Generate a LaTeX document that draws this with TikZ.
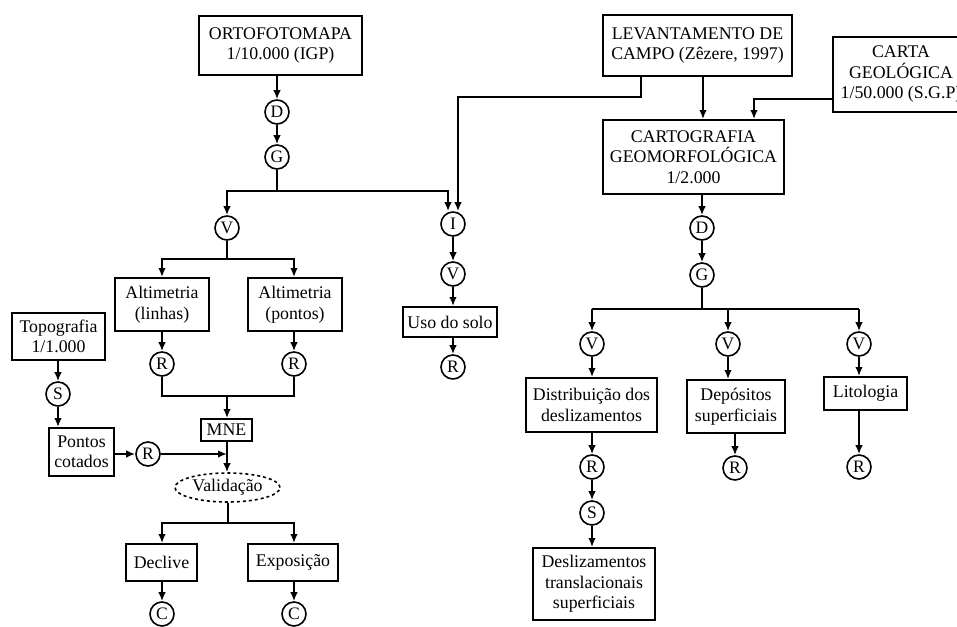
\documentclass[tikz,border=0pt]{standalone}
\usepackage{fontspec}
\setmainfont{Liberation Serif}
\usetikzlibrary{arrows.meta,shapes.geometric}
\begin{document}
\begin{tikzpicture}[x=1pt,y=-1pt,
  every node/.style={font=\fontsize{17.8}{20.5}\selectfont},
  box/.style={draw,line width=1.8pt,align=center,inner sep=1pt},
  circ/.style={draw,circle,line width=1.6pt,minimum size=24pt,inner sep=0pt,font=\fontsize{17.5}{18}\selectfont},
  ln/.style={line width=1.8pt},
  arr/.style={line width=1.8pt,-{Latex[length=9pt,width=7.5pt]}}]
\useasboundingbox (0,0) rectangle (957,626);
% left column
\node[box,minimum width=163pt,minimum height=59pt] (ortho) at (280.5,45.5) {ORTOFOTOMAPA\\1/10.000 (IGP)};
\node[circ] (D1) at (277,112) {D};
\node[circ] (G1) at (277,157) {G};
\coordinate (b1) at (277,191);
\node[circ] (V1) at (227,228) {V};
\node[circ] (I) at (453,224) {I};
\coordinate (b1l) at (227,191);
\coordinate (b1r) at (448,191);
\draw[arr] (ortho.south -| D1) -- (D1);
\draw[arr] (D1) -- (G1);
\draw[ln] (G1) -- (b1);
\draw[arr] (b1) -- (b1l) -- (V1);
\draw[arr] (b1) -- (b1r) -- (b1r |- I.north);

\coordinate (b2) at (227,259);
\coordinate (b2l) at (162,259);
\coordinate (b2r) at (294,259);
\node[box,minimum width=94pt,minimum height=53pt] (altl) at (162,304.5) {Altimetria\\(linhas)};
\node[box,minimum width=94pt,minimum height=53pt] (altp) at (295,304.5) {Altimetria\\(pontos)};
\draw[ln] (V1) -- (b2);
\draw[arr] (b2) -- (b2l) -- (b2l |- altl.north);
\draw[arr] (b2) -- (b2r) -- (b2r |- altp.north);
\node[circ] (RL) at (162,364) {R};
\node[circ] (RP) at (294,364) {R};
\draw[arr] (altl.south -| RL) -- (RL);
\draw[arr] (altp.south -| RP) -- (RP);
\coordinate (m1) at (162,396);
\coordinate (m2) at (294,396);
\coordinate (m0) at (227,396);
\node[box,minimum width=51pt,minimum height=22pt,inner sep=0pt] (mne) at (226.5,430) {MNE};
\draw[ln] (RL) -- (m1) -- (m2) -- (RP);
\draw[arr] (m0) -- (m0 |- mne.north);

\node[box,minimum width=93pt,minimum height=47pt] (topo) at (58.5,336.5) {Topografia\\1/1.000};
\node[circ] (S1) at (58,394) {S};
\node[box,minimum width=65pt,minimum height=48pt] (pont) at (81.5,452) {Pontos\\cotados};
\node[circ] (R3) at (148,454) {R};
\coordinate (j3) at (227,454);
\draw[arr] (topo.south -| S1) -- (S1);
\draw[arr] (S1) -- (S1 |- pont.north);
\draw[arr] (pont.east |- R3) -- (R3);
\draw[arr] (R3) -- (j3);

\node[ellipse,draw,dashed,line width=1.6pt,minimum width=105pt,minimum height=29pt,inner sep=0pt] (valid) at (227.5,487.5) {Validação};
\draw[arr] (mne.south -| j3) -- (j3 |- valid.north);
\coordinate (b3) at (228,523);
\coordinate (b3l) at (162,523);
\coordinate (b3r) at (294,523);
\node[box,minimum width=71pt,minimum height=37pt] (decl) at (161.5,562.5) {Declive};
\node[box,minimum width=90pt,minimum height=37pt] (expo) at (293,562.5) {Exposição};
\draw[ln] (valid.south -| b3) -- (b3);
\draw[arr] (b3) -- (b3l) -- (b3l |- decl.north);
\draw[arr] (b3) -- (b3r) -- (b3r |- expo.north);
\node[circ] (C1) at (162,614) {C};
\node[circ] (C2) at (294,614) {C};
\draw[arr] (decl.south -| C1) -- (C1);
\draw[arr] (expo.south -| C2) -- (C2);

% middle column
\node[circ] (V2) at (453,274) {V};
\node[box,minimum width=94pt,minimum height=30pt] (uso) at (450,322) {Uso do solo};
\node[circ] (R4) at (453,367) {R};
\draw[arr] (I) -- (V2);
\draw[arr] (V2) -- (V2 |- uso.north);
\draw[arr] (uso.south -| R4) -- (R4);

% right part
\node[box,minimum width=189pt,minimum height=61pt] (lev) at (697.5,45.5) {LEVANTAMENTO DE\\CAMPO (Zêzere, 1997)};
\node[box,minimum width=181pt,minimum height=74pt] (carto) at (693.5,157) {CARTOGRAFIA\\GEOMORFOLÓGICA\\1/2.000};
\node[box,minimum width=136pt,minimum height=75pt] (carta) at (901,74.5) {CARTA\\GEOLÓGICA\\1/50.000 (S.G.P)};
\coordinate (l1) at (641,97);
\coordinate (l2) at (458,97);
\draw[arr] (lev.south -| l1) -- (l1) -- (l2) -- (l2 |- I.north);
\coordinate (l3) at (703,76);
\draw[arr] (lev.south -| l3) -- (l3 |- carto.north);
\coordinate (c1) at (754,99);
\draw[arr] (carta.west |- c1) -- (c1) -- (c1 |- carto.north);

\node[circ] (D2) at (702,228) {D};
\node[circ] (G2) at (702,275) {G};
\coordinate (b4) at (702,309);
\coordinate (b4l) at (592,309);
\coordinate (b4m) at (728,309);
\coordinate (b4r) at (859,309);
\draw[arr] (carto.south -| D2) -- (D2);
\draw[arr] (D2) -- (G2);
\draw[ln] (G2) -- (b4);
\draw[ln] (b4l) -- (b4r);
\node[circ] (V3) at (592,344) {V};
\node[circ] (V4) at (728,344) {V};
\node[circ] (V5) at (859,344) {V};
\draw[arr] (b4l) -- (V3);
\draw[arr] (b4m) -- (V4);
\draw[arr] (b4r) -- (V5);
\node[box,minimum width=131pt,minimum height=54pt] (dist) at (591.5,405) {Distribuição dos\\deslizamentos};
\node[box,minimum width=98pt,minimum height=53pt] (depo) at (736,406.5) {Depósitos\\superficiais};
\node[box,minimum width=83pt,minimum height=33pt] (lito) at (865.5,393.5) {Litologia};
\draw[arr] (V3) -- (V3 |- dist.north);
\draw[arr] (V4) -- (V4 |- depo.north);
\draw[arr] (V5) -- (V5 |- lito.north);
\node[circ] (R5) at (592,467) {R};
\node[circ] (S2) at (592,513) {S};
\node[box,minimum width=122pt,minimum height=72pt] (desl) at (594,584) {Deslizamentos\\translacionais\\superficiais};
\node[circ] (R6) at (735,468) {R};
\node[circ] (R7) at (859,467) {R};
\draw[arr] (dist.south -| R5) -- (R5);
\draw[arr] (R5) -- (S2);
\draw[arr] (S2) -- (S2 |- desl.north);
\draw[arr] (depo.south -| R6) -- (R6);
\draw[arr] (lito.south -| R7) -- (R7);
\end{tikzpicture}
\end{document}
